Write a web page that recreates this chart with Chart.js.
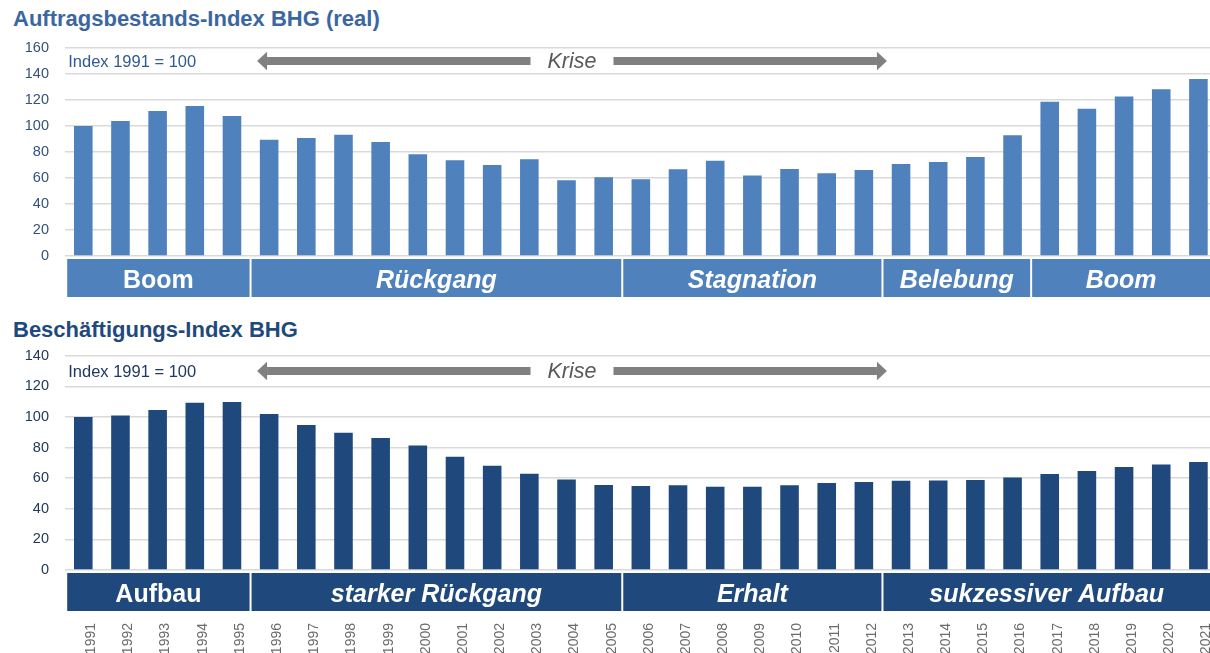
<!DOCTYPE html>
<html>
<head>
<meta charset="utf-8">
<script src="https://cdn.jsdelivr.net/npm/chart.js@4.4.1/dist/chart.umd.min.js"></script>
<style>
  html, body { margin: 0; padding: 0; background: #fff; overflow: hidden; }
  #wrap { position: relative; width: 1210px; height: 653px; overflow: hidden; }
  .title { position: absolute; left: 13px; font-family: "Liberation Sans", Arial, sans-serif; font-weight: bold; font-size: 22px; line-height: 22px; white-space: nowrap; }
  canvas { position: absolute; left: 0; }
</style>
</head>
<body>
<div id="wrap">
  <div class="title" id="t1" style="top:8px; color:#3B67A1;">Auftragsbestands-Index BHG (real)</div>
  <div class="title" id="t2" style="top:319px; color:#1F497D;">Beschäftigungs-Index BHG</div>
  <canvas id="c1" width="1217" height="300" style="top:0; width:1217px; height:300px;"></canvas>
  <canvas id="c2" width="1217" height="343" style="top:310px; width:1217px; height:343px;"></canvas>
</div>
<script>
// ---- data ----
const years = ['1991','1992','1993','1994','1995','1996','1997','1998','1999','2000',
               '2001','2002','2003','2004','2005','2006','2007','2008','2009','2010',
               '2011','2012','2013','2014','2015','2016','2017','2018','2019','2020','2021'];

const auftragsbestand = [100, 103.8, 111.5, 115.4, 107.7, 89.5, 90.8, 93.3, 87.7, 78.2,
                         73.6, 70, 74.4, 58.2, 60.5, 59, 66.7, 73.3, 62, 66.9,
                         63.6, 66.2, 70.8, 72.3, 76.2, 92.8, 118.7, 113.3, 122.6, 128.2, 136.2];

const beschaeftigung = [100, 101, 104.5, 109.3, 109.7, 101.9, 94.7, 89.7, 86.2, 81.4,
                        74, 68.1, 62.9, 59.2, 55.5, 54.9, 55.3, 54.4, 54.4, 55.3,
                        56.8, 57.5, 58.3, 58.5, 58.8, 60.5, 62.7, 64.7, 67.3, 69, 70.5];

const phasesTop = [
  { from: '1991', to: '1995', label: 'Boom', italic: false },
  { from: '1996', to: '2005', label: 'Rückgang', italic: true },
  { from: '2006', to: '2012', label: 'Stagnation', italic: true },
  { from: '2013', to: '2016', label: 'Belebung', italic: true },
  { from: '2017', to: '2021', label: 'Boom', italic: true }
];
const phasesBottom = [
  { from: '1991', to: '1995', label: 'Aufbau', italic: false },
  { from: '1996', to: '2005', label: 'starker Rückgang', italic: true },
  { from: '2006', to: '2012', label: 'Erhalt', italic: true },
  { from: '2013', to: '2021', label: 'sukzessiver Aufbau', italic: true }
];
const kriseFrom = '1996', kriseTo = '2012';
const indexNote = 'Index 1991 = 100';
const kriseLabel = 'Krise';
const yMaxTop = 160, yMaxBottom = 140, yStep = 20;

// ---- plugin for phase boxes, arrows and notes ----
const FONT = '"Liberation Sans", Arial, sans-serif';
const annotPlugin = {
  id: 'annot',
  afterDraw(chart, args, o) {
    const { ctx, chartArea } = chart;
    const x = chart.scales.x, y = chart.scales.y;
    const step = x.getPixelForValue(1) - x.getPixelForValue(0);
    ctx.save();
    // phase boxes
    o.phases.forEach(p => {
      const i0 = years.indexOf(p.from), i1 = years.indexOf(p.to);
      let x0 = x.getPixelForValue(i0) - step / 2 + 1;
      if (i0 === 0) x0 = chartArea.left + 2.5;
      const x1 = x.getPixelForValue(i1) + step / 2 - 1;
      const top = chartArea.bottom + 3, h = 38;
      ctx.fillStyle = o.color;
      ctx.fillRect(x0, top, x1 - x0, h);
      ctx.fillStyle = '#ffffff';
      ctx.font = (p.italic ? 'italic ' : '') + 'bold 25px ' + FONT;
      ctx.textAlign = 'center';
      ctx.textBaseline = 'alphabetic';
      ctx.fillText(p.label, (x0 + Math.min(x1, 1210)) / 2, top + 29);
    });
    // note + krise arrows
    const ym = y.getPixelForValue(o.max - 10);
    ctx.fillStyle = o.noteColor;
    ctx.font = '16.5px ' + FONT;
    ctx.textAlign = 'left';
    ctx.fillText(indexNote, chartArea.left + 3.5, ym + 6);

    const xl = x.getPixelForValue(years.indexOf(kriseFrom)) - step / 2 + 6.5;
    const xr = x.getPixelForValue(years.indexOf(kriseTo)) + step / 2 + 4.5;
    const xc = (xl + xr) / 2;
    ctx.font = 'italic 21.5px ' + FONT;
    ctx.fillStyle = '#595959';
    ctx.textAlign = 'center';
    ctx.fillText(kriseLabel, xc, ym + 7);
    const tw = ctx.measureText(kriseLabel).width;
    const gap = 17;
    ctx.fillStyle = '#808080';
    const th = 8, hh = 18.5, hl = 10;
    ctx.fillRect(xl + hl, ym - th / 2, (xc - tw / 2 - gap) - (xl + hl), th);
    ctx.beginPath();
    ctx.moveTo(xl, ym); ctx.lineTo(xl + hl, ym - hh / 2); ctx.lineTo(xl + hl, ym + hh / 2); ctx.closePath(); ctx.fill();
    ctx.fillRect(xc + tw / 2 + gap, ym - th / 2, (xr - hl) - (xc + tw / 2 + gap), th);
    ctx.beginPath();
    ctx.moveTo(xr, ym); ctx.lineTo(xr - hl, ym - hh / 2); ctx.lineTo(xr - hl, ym + hh / 2); ctx.closePath(); ctx.fill();
    ctx.restore();
  }
};

function makeChart(id, data, color, yMax, opts) {
  return new Chart(document.getElementById(id), {
    type: 'bar',
    data: {
      labels: years,
      datasets: [{ data: data, backgroundColor: color, borderWidth: 0,
                   barPercentage: 0.5, categoryPercentage: 1.0 }]
    },
    options: {
      responsive: false,
      animation: false,
      devicePixelRatio: 1,
      layout: { padding: { top: opts.padTop, bottom: opts.padBottom, left: 0, right: 0 } },
      plugins: {
        legend: { display: false },
        tooltip: { enabled: false },
        title: { display: false },
        annot: { phases: opts.phases, color: color, max: yMax, noteColor: opts.noteColor }
      },
      scales: {
        x: {
          display: opts.showX,
          grid: { display: false, drawTicks: false },
          border: { display: false },
          ticks: { autoSkip: false, minRotation: 90, maxRotation: 90, padding: 53, labelOffset: 8,
                   color: '#6b6b6b', font: { family: FONT, size: 14 } },
          afterFit: s => {
            s.paddingLeft = 0; s.paddingRight = 0;
            if (opts.showX) s.height = opts.xHeight;
          }
        },
        y: {
          min: 0, max: yMax,
          ticks: { stepSize: yStep, padding: 15.7, color: opts.tickColor, font: { family: FONT, size: 14.5 } },
          grid: { color: '#D9D9D9', lineWidth: 1.5, drawTicks: false },
          border: { display: false },
          afterFit: s => { s.width = 64.7; }
        }
      }
    },
    plugins: [annotPlugin]
  });
}

makeChart('c1', auftragsbestand, '#4F81BD', yMaxTop,
  { padTop: 48, padBottom: 44, showX: false, phases: phasesTop, tickColor: '#34527E', noteColor: '#2F5B8F' });
makeChart('c2', beschaeftigung, '#1F497D', yMaxBottom,
  { padTop: 45.7, padBottom: 0, showX: true, xHeight: 83, phases: phasesBottom, tickColor: '#22385C', noteColor: '#1F3A62' });
</script>
</body>
</html>
